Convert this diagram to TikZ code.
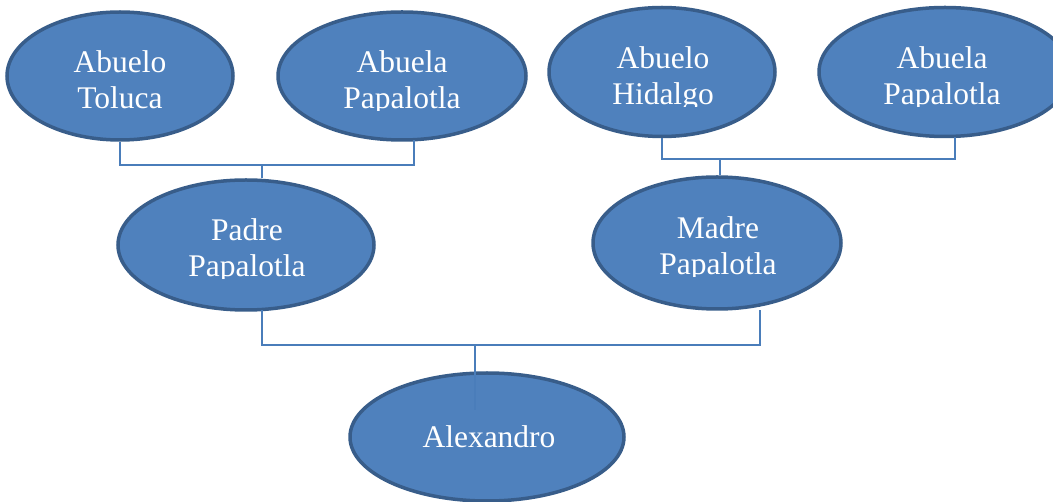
\documentclass[tikz,border=0pt]{standalone}
\usepackage{fontspec}
\setmainfont{Liberation Serif}
\usetikzlibrary{shapes.geometric}
\definecolor{fillblue}{HTML}{4F81BD}
\definecolor{edgeblue}{HTML}{385D8A}
\definecolor{linkblue}{HTML}{4A7DBA}
\tikzset{
  person/.style={ellipse, draw=edgeblue, line width=3.5pt, fill=fillblue, inner sep=0pt},
  txt/.style={anchor=base, inner sep=0pt, text=white, font=\fontsize{31.5}{36}\selectfont},
  conn/.style={draw=linkblue, line width=1.5pt}
}
% a text line whose descenders are cut off just below its baseline
\newcommand{\cutline}[4]{%
  \begin{scope}
    \clip (0,0) rectangle (1053,#3+1.5);
    \node[txt] (#1) at (#2,#3) {#4};
  \end{scope}}
\begin{document}
\begin{tikzpicture}[x=1pt,y=-1pt]
\useasboundingbox (0,0) rectangle (1053,502);
\clip (0,0) rectangle (1053,502);
\node[person, minimum width=226pt, minimum height=128pt] (t1) at (120,76) {};
\node[person, minimum width=248pt, minimum height=128pt] (t2) at (402,76) {};
\node[person, minimum width=226pt, minimum height=129pt] (t3) at (662,72) {};
\node[person, minimum width=252pt, minimum height=129pt] (t4) at (945,72) {};
\node[person, minimum width=256pt, minimum height=130pt] (padre) at (246,245) {};
\node[person, minimum width=248pt, minimum height=132pt] (madre) at (717,243) {};
\node[person, minimum width=274pt, minimum height=128pt] (alex) at (487,437) {};
% texts
\node[txt] (t1a) at (120,73) {Abuelo};
\node[txt] (t1b) at (120,109) {Toluca};
\node[txt] (t2a) at (402,73) {Abuela};
\cutline{t2b}{402}{109}{Papalotla}
\node[txt] (t3a) at (663,69) {Abuelo};
\cutline{t3b}{663}{105}{Hidalgo}
\node[txt] (t4a) at (942,69) {Abuela};
\cutline{t4b}{942}{105}{Papalotla}
\node[txt] (pa) at (247,241) {Padre};
\cutline{pb}{247}{277}{Papalotla}
\node[txt] (ma) at (718,239) {Madre};
\cutline{mb}{718}{275}{Papalotla}
\node[txt] (al) at (489,448) {Alexandro};
% junctions
\coordinate (j1) at (262,165);
\coordinate (j2) at (720,159);
\coordinate (j3) at (475,345);
\coordinate (e3) at (475,410);
% top left family
\draw[conn] (t1.south) -- (t1.south |- j1) -- (414,165) -- (414,140);
\draw[conn] (j1) -- (j1 |- padre.north);
% top right family
\draw[conn] (t3.south) -- (t3.south |- j2) -- (955,159) -- (955,137);
\draw[conn] (j2) -- (j2 |- madre.north);
% bottom family
\draw[conn] (262,310) -- (262,345) -- (760,345) -- (760,310);
\draw[conn] (j3) -- (e3);
\end{tikzpicture}
\end{document}
